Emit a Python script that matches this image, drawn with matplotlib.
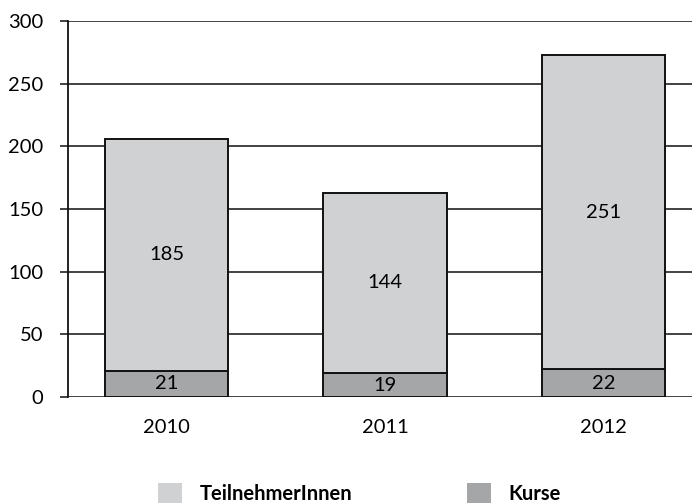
import matplotlib.pyplot as plt
from matplotlib.patches import Patch
import numpy as np

plt.rcParams['font.family'] = ['Lato', 'DejaVu Sans']

jahre = ['2010', '2011', '2012']
kurse = [21, 19, 22]
teilnehmer = [185, 144, 251]
y_ticks = [0, 50, 100, 150, 200, 250, 300]

hell = '#d0d1d3'
dunkel = '#a5a6a8'

fig = plt.figure(figsize=(6.92, 5.03), dpi=100)
ax = fig.add_axes([68/692, 1 - 397/503, 1 - 68/692, (397 - 21)/503])

x = np.arange(len(jahre))
ax.bar(x, kurse, width=0.565, color=dunkel, edgecolor='#111111', linewidth=1.4, zorder=3)
ax.bar(x, teilnehmer, bottom=kurse, width=0.565, color=hell, edgecolor='#111111',
       linewidth=1.4, zorder=3)

for i in range(len(jahre)):
    ax.text(x[i], kurse[i] / 2, str(kurse[i]), ha='center', va='center', fontsize=14.5, zorder=4)
    ax.text(x[i], kurse[i] + teilnehmer[i] / 2, str(teilnehmer[i]), ha='center', va='center',
            fontsize=14.5, zorder=4)

ax.set_xlim(-0.451, 2.406)
ax.set_ylim(0, 300)
ax.set_yticks(y_ticks)
ax.set_xticks(x)
ax.set_xticklabels(jahre)
ax.yaxis.grid(True, color='#222222', linewidth=1.2, zorder=0)
ax.set_axisbelow(True)
for s in ['top', 'right', 'bottom']:
    ax.spines[s].set_visible(False)
ax.spines['left'].set_linewidth(1.3)
ax.spines['left'].set_color('#111111')
ax.tick_params(axis='y', length=5.8, width=1.2, pad=12, labelsize=14.5, color='#222222')
ax.tick_params(axis='x', length=0, pad=16, labelsize=14.5)

handles = [Patch(facecolor=hell, edgecolor='none'), Patch(facecolor=dunkel, edgecolor='none')]
fig.legend(handles, ['TeilnehmerInnen', 'Kurse'], ncol=2, loc='upper left',
           bbox_to_anchor=(158/692, 1 - 483/503), frameon=False, borderpad=0,
           borderaxespad=0, handlelength=1.2, handleheight=1.2, handletextpad=0.85,
           columnspacing=5.7, prop={'weight': 'bold', 'size': 14.5})

fig.savefig('out.png', dpi=100)
